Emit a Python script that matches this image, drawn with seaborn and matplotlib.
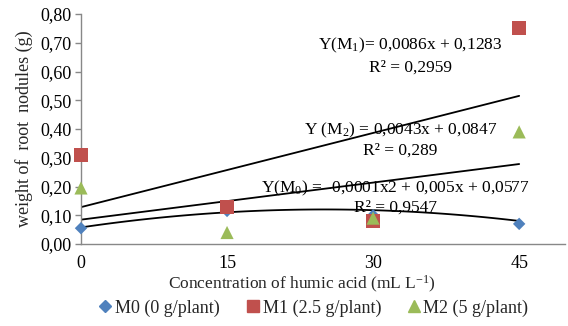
import numpy as np
import pandas as pd
import matplotlib
matplotlib.use("Agg")
import matplotlib.pyplot as plt
import seaborn as sns
from matplotlib.lines import Line2D

# ---- data ----
concentration = [0, 15, 30, 45]
m0_values = [0.055, 0.115, 0.10, 0.07]
m1_values = [0.31, 0.13, 0.08, 0.75]
m2_values = [0.195, 0.04, 0.09, 0.39]
series_labels = ["M0 (0 g/plant)", "M1 (2.5 g/plant)", "M2 (5 g/plant)"]
# trendline coefficients (highest power first)
m0_coef = [-0.0001, 0.005, 0.0577]
m1_coef = [0.0086, 0.1283]
m2_coef = [0.0043, 0.0847]
y_ticks = [0.0, 0.1, 0.2, 0.3, 0.4, 0.5, 0.6, 0.7, 0.8]
x_ticks = [0, 15, 30, 45]

sns.set_theme(style="white")
plt.rcParams["font.family"] = ["Liberation Serif", "DejaVu Serif"]
plt.rcParams["mathtext.fontset"] = "custom"
plt.rcParams["mathtext.rm"] = "Liberation Serif"
plt.rcParams["mathtext.it"] = "Liberation Serif:italic"

colors = ["#4F81BD", "#C0504D", "#9BBB59"]
markers = ["D", "s", "^"]
sizes = [40, 100, 90]

df = pd.DataFrame({
    "x": concentration * 3,
    "y": m0_values + m1_values + m2_values,
    "series": sum([[s] * 4 for s in series_labels], []),
})

fig = plt.figure(figsize=(5.68, 3.26), dpi=100)
ax = fig.add_axes([0.1426, 0.2515, 0.852, 0.7055])

# trendlines
xs = np.linspace(0, 45, 100)
for coef in (m1_coef, m2_coef, m0_coef):
    sns.lineplot(x=xs, y=np.polyval(coef, xs), ax=ax, color="black", lw=1.3, zorder=2)

for lab, c, m, s in zip(series_labels, colors, markers, sizes):
    sub = df[df["series"] == lab]
    sns.scatterplot(data=sub, x="x", y="y", ax=ax, color=c, marker=m, s=s,
                    edgecolor="none", zorder=3, legend=False, clip_on=False)

ax.set_xlim(0, 49.7)
ax.set_ylim(0, 0.8)
ax.set_xticks(x_ticks)
ax.set_xticklabels([str(t) for t in x_ticks])
ax.set_yticks(y_ticks)
ax.set_yticklabels([f"{t:.2f}".replace(".", ",") for t in y_ticks])
ax.tick_params(axis="both", labelsize=13, colors="black")
ax.tick_params(axis="y", length=4, width=1, color="#888888", direction="out", left=True, pad=3)
ax.tick_params(axis="x", length=0, pad=8)
for sp in ["top", "right"]:
    ax.spines[sp].set_visible(False)
for sp in ["left", "bottom"]:
    ax.spines[sp].set_color("#888888")
    ax.spines[sp].set_linewidth(1)

ax.set_xlabel(r"Concentration of humic acid (mL L$\mathregular{^{-1}}$)", fontsize=12.5)
ax.xaxis.set_label_coords(0.457, -0.128)
ax.set_ylabel("weight of  root  nodules (g)", fontsize=13, labelpad=5)

tk = dict(fontsize=12.5, ha="center", va="center", color="black", zorder=1)
ax.text(33.8, 0.69, r"Y(M$\mathregular{_1}$)= 0,0086x + 0,1283", **tk)
ax.text(33.8, 0.615, "R² = 0,2959", **tk)
ax.text(32.8, 0.395, r"Y (M$\mathregular{_2}$) = 0,0043x + 0,0847", **tk)
ax.text(32.8, 0.325, "R² = 0,289", **tk)
ax.text(32.3, 0.195, r"Y(M$\mathregular{_0}$) = -0,0001x2 + 0,005x + 0,0577", **tk)
ax.text(32.3, 0.125, "R² = 0,9547", **tk)

handles = [Line2D([], [], marker=m, color=c, linestyle="none", markersize=ms)
           for m, c, ms in zip(markers, colors, [6, 9, 8])]
fig.legend(handles, series_labels, loc="center", bbox_to_anchor=(0.55, 0.055),
           ncol=3, frameon=False, fontsize=13, handletextpad=0.05, columnspacing=1.3,
           handlelength=1.0)

fig.savefig("out.png", dpi=100)
